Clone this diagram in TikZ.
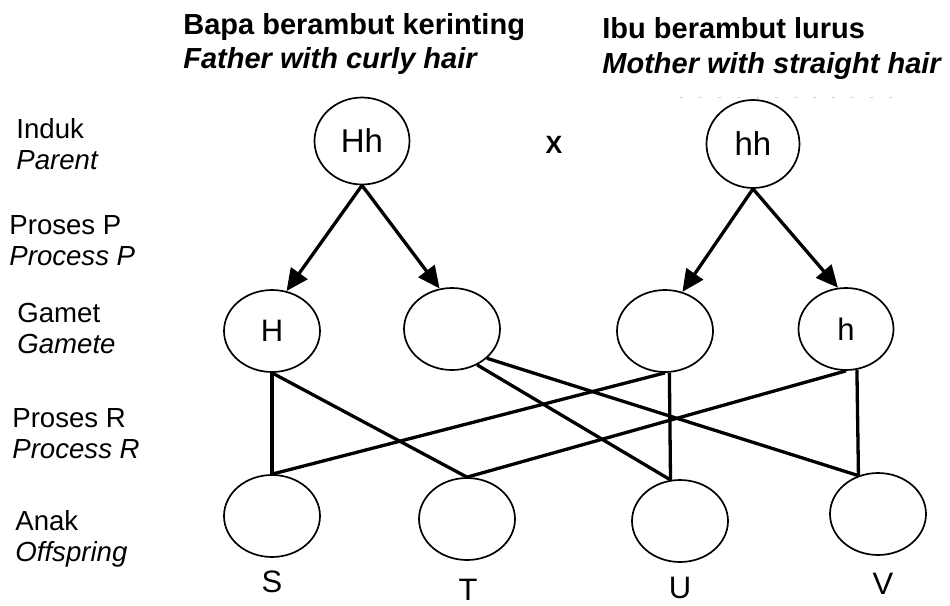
\documentclass[tikz,border=0pt]{standalone}
\usepackage{fontspec}
\setmainfont{Liberation Sans}
\usetikzlibrary{shapes.geometric, arrows.meta}
\definecolor{FaintGray}{HTML}{D6D6D6}
\newcommand{\eng}[1]{\textit{#1}}

\begin{document}
\begin{tikzpicture}[x=0.5pt, y=-0.5pt,
  cell/.style={draw, ellipse, line width=0.85pt, inner sep=0pt,
    minimum width=48pt, minimum height=41pt, font=\fontsize{15.5}{18}\selectfont},
  stage/.style={anchor=north west, align=left, inner sep=0pt,
    font=\fontsize{13.8}{15.5}\selectfont},
  parent/.style={anchor=north west, align=left, inner sep=0pt,
    font=\fontsize{14.5}{17}\selectfont\bfseries},
  child/.style={font=\fontsize{15.5}{18}\selectfont},
  meiosis/.style={line width=1.65pt, -{Triangle[length=11pt, width=10pt]}},
  fuse/.style={line width=1.65pt}]
\useasboundingbox (0,0) rectangle (950,606);

% Headings
\node[parent] (hFather) at (183,13) {Bapa berambut kerinting\\\eng{Father with curly hair}};
\node[parent] (hMother) at (602,17) {Ibu berambut lurus\\[0.5pt]\eng{Mother with straight hair}};
\draw[FaintGray, line width=0.5pt, dash pattern=on 1.5pt off 8pt] (680,97) -- (895,97);

% Stage labels
\node[stage] (lParent) at (16,118) {Induk\\\eng{Parent}};
\node[stage] (lProcP) at (9,215) {Proses P\\\eng{Process P}};
\node[stage] (lGamete) at (17,303) {Gamet\\\eng{Gamete}};
\node[stage] (lProcR) at (12,408) {Proses R\\\eng{Process R}};
\node[stage] (lChild) at (15,510) {Anak\\\eng{Offspring}};

% Parents
\node[cell, minimum width=47.5pt, minimum height=43.5pt, font=\fontsize{16.5}{19}\selectfont] (pFather) at (362,141) {Hh};
\node[font=\fontsize{12.5}{15}\selectfont\bfseries] (cross) at (554,145) {X};
\node[cell, minimum width=46.5pt, minimum height=44pt, font=\fontsize{16.5}{19}\selectfont] (pMother) at (753,144) {hh};

% Gametes
\node[cell] (gFa) at (272,331) {H};
\node[cell] (gFb) at (452,329) {};
\node[cell] (gMa) at (665,331) {};
\node[cell, minimum width=47.5pt] (gMb) at (846,329) {h};

% Offspring
\node[cell] (oS) at (272,516) {};
\node[cell] (oT) at (467,519) {};
\node[cell] (oU) at (680,521) {};
\node[cell] (oV) at (878,514) {};

\node[child] (nS) at (272,582) {S};
\node[child] (nT) at (468,590) {T};
\node[child] (nU) at (680,588) {U};
\node[child] (nV) at (883,584) {V};

% Process P
\draw[meiosis] (pFather.south) -- (gFa.70);
\draw[meiosis] (pFather.south) -- (gFb.107);
\draw[meiosis] (pMother.south) -- (gMa.66);
\draw[meiosis] (pMother.south) -- (gMb.101);

% Process R
\draw[fuse] (gFa.south) -- (oS.north);
\draw[fuse] (gFa.south) -- (oT.north);
\draw[fuse] (gFb.-55) -- (oU.103);
\draw[fuse] (gFb.-40) -- (oV.117);
\draw[fuse] (gMa.south) -- (oS.north);
\draw[fuse] (gMa.-84) -- (oU.103);
\draw[fuse] (gMb.south) -- (oT.north);
\draw[fuse] (gMb.-75) -- (oV.117);

\end{tikzpicture}
\end{document}
